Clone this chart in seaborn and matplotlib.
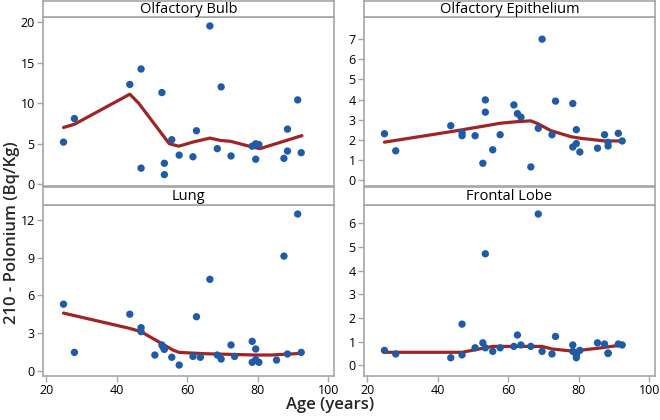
import matplotlib
matplotlib.use("Agg")
import matplotlib.pyplot as plt
import seaborn as sns
import pandas as pd

# Olfactory Bulb
ob_age = [24.9, 28.0, 43.7, 46.9, 46.9, 52.8, 53.5, 53.5, 55.6, 57.7, 61.6, 62.6, 66.4,
          68.5, 69.6, 72.4, 78.4, 79.4, 80.3, 79.4, 87.4, 88.4, 88.4, 91.3, 92.3]
ob_val = [5.2, 8.1, 12.3, 14.2, 2.0, 11.3, 2.6, 1.2, 5.5, 3.6, 3.4, 6.6, 19.5,
          4.4, 12.0, 3.5, 4.7, 5.0, 4.9, 3.1, 3.2, 6.8, 4.1, 10.4, 3.9]
ob_fit_age = [24.9, 28.0, 43.7, 46.2, 54.9, 57.6, 61.5, 66.4, 69.5, 72.3, 78.4, 80.6, 92.5]
ob_fit_val = [7.0, 7.4, 11.1, 10.0, 5.0, 4.7, 5.2, 5.7, 5.4, 5.3, 4.6, 4.4, 6.0]

# Olfactory Epithelium
oe_age = [24.9, 28.1, 43.7, 46.9, 46.9, 50.6, 52.8, 53.5, 53.5, 55.6, 57.7, 61.6, 62.6,
          63.6, 66.4, 68.5, 69.6, 72.4, 73.4, 78.3, 79.3, 78.3, 79.3, 80.3, 85.3,
          87.3, 88.3, 88.3, 91.2, 92.3]
oe_val = [2.3, 1.45, 2.7, 2.35, 2.2, 2.2, 0.83, 3.98, 3.37, 1.5, 2.25, 3.73, 3.3,
          3.12, 0.65, 2.57, 7.0, 2.25, 3.92, 3.8, 2.5, 1.64, 1.81, 1.39, 1.58,
          2.25, 1.87, 1.69, 2.32, 1.94]
oe_fit_age = [24.9, 43.7, 53.5, 57.7, 61.9, 66.4, 68.5, 72.1, 77.8, 80.6, 87.3, 92.3]
oe_fit_val = [1.88, 2.4, 2.69, 2.82, 2.89, 2.94, 2.79, 2.45, 2.15, 2.07, 1.94, 1.94]

# Lung
lu_age = [24.9, 28.0, 43.7, 46.9, 46.9, 50.8, 52.8, 53.2, 53.5, 55.6, 57.7, 61.6, 62.6,
          63.7, 66.4, 68.5, 69.6, 72.4, 73.4, 78.4, 79.4, 78.4, 79.4, 80.3, 85.3,
          87.4, 88.4, 91.3, 92.3]
lu_val = [5.3, 1.46, 4.5, 3.43, 3.11, 1.25, 2.05, 1.86, 1.7, 1.07, 0.45, 1.14, 4.3,
          1.07, 7.28, 1.25, 0.93, 2.05, 1.14, 2.34, 1.73, 0.67, 0.88, 0.67, 0.85,
          9.13, 1.33, 12.48, 1.46]
lu_fit_age = [24.9, 43.7, 46.9, 55.9, 57.7, 65.3, 79.4, 83.8, 92.3]
lu_fit_val = [4.59, 3.37, 3.11, 1.65, 1.46, 1.35, 1.25, 1.25, 1.38]

# Frontal Lobe
fl_age = [24.9, 28.1, 43.7, 46.9, 46.9, 50.6, 52.8, 53.5, 53.5, 55.6, 57.7, 61.6, 62.6,
          63.6, 66.4, 68.5, 69.6, 72.4, 73.4, 78.3, 78.3, 79.3, 79.3, 80.3, 85.3,
          87.3, 88.3, 88.3, 91.2, 92.3]
fl_val = [0.63, 0.48, 0.32, 1.74, 0.44, 0.74, 0.95, 4.71, 0.74, 0.59, 0.74, 0.8, 1.28,
          0.86, 0.8, 6.39, 0.59, 0.48, 1.22, 0.86, 0.59, 0.44, 0.32, 0.63, 0.95,
          0.9, 0.52, 0.5, 0.9, 0.86]
fl_fit_age = [24.9, 46.9, 53.5, 55.6, 69.6, 72.4, 78.3, 85.3, 92.3]
fl_fit_val = [0.55, 0.55, 0.74, 0.8, 0.8, 0.69, 0.6, 0.72, 0.86]

titles = ["Olfactory Bulb", "Olfactory Epithelium", "Lung", "Frontal Lobe"]
y_ticks = [[0, 5, 10, 15, 20], [0, 1, 2, 3, 4, 5, 6, 7], [0, 3, 6, 9, 12], [0, 1, 2, 3, 4, 5, 6]]
y_lims = [(-0.2, 20.6), (-0.3, 8.1), (-0.42, 13.2), (-0.45, 6.77)]

panels = [
    (ob_age, ob_val, ob_fit_age, ob_fit_val),
    (oe_age, oe_val, oe_fit_age, oe_fit_val),
    (lu_age, lu_val, lu_fit_age, lu_fit_val),
    (fl_age, fl_val, fl_fit_age, fl_fit_val),
]

sns.set_theme(style="white")
plt.rcParams['font.family'] = ['Open Sans', 'DejaVu Sans']

grey = "#a6a6a6"
dot_color = "#1f5ba6"
line_color = "#a02424"

fig = plt.figure(figsize=(6.6, 4.2), dpi=100)

lefts = [0.0652, 0.5515, 0.0652, 0.5515]
plot_bottoms = [0.5571, 0.5571, 0.1048, 0.1048]
plot_heights = [0.4024, 0.4024, 0.4071, 0.4071]
strip_bottoms = [0.9595, 0.9595, 0.5119, 0.5119]
strip_heights = [0.038, 0.038, 0.0429, 0.0429]
width = 0.4409

for i, (age, val, fit_age, fit_val) in enumerate(panels):
    ax = fig.add_axes([lefts[i], plot_bottoms[i], width, plot_heights[i]])
    pts = pd.DataFrame({"age": age, "val": val})
    fit = pd.DataFrame({"age": fit_age, "val": fit_val})
    sns.lineplot(data=fit, x="age", y="val", ax=ax, color=line_color, linewidth=2.3,
                 zorder=2)
    sns.scatterplot(data=pts, x="age", y="val", ax=ax, color=dot_color, s=28,
                    edgecolor="none", zorder=3)
    ax.set_xlim(19.1, 101.6)
    ax.set_ylim(*y_lims[i])
    ax.set_yticks(y_ticks[i])
    ax.set_xticks([20, 40, 60, 80, 100])
    ax.set_xlabel("")
    ax.set_ylabel("")
    for sp in ax.spines.values():
        sp.set_color(grey)
        sp.set_linewidth(1.2)
    ax.tick_params(axis="y", left=True, length=4, width=1, color=grey, pad=2,
                   labelsize=9, labelcolor="black")
    if i >= 2:
        ax.tick_params(axis="x", bottom=True, length=4, width=1, color=grey, pad=2,
                       labelsize=9, labelcolor="black")
    else:
        ax.tick_params(axis="x", bottom=False, labelbottom=False)

    sax = fig.add_axes([lefts[i], strip_bottoms[i], width, strip_heights[i]])
    sax.set_xticks([])
    sax.set_yticks([])
    for sp in sax.spines.values():
        sp.set_color(grey)
        sp.set_linewidth(1.2)
    sax.text(0.5, 0.45, titles[i], ha="center", va="center", fontsize=10.5,
             transform=sax.transAxes, color="black")

fig.text(0.018, 0.445, "210 - Polonium (Bq/Kg)", rotation=90, ha="center", va="center",
         fontsize=12, fontweight="semibold")
fig.text(0.5, 0.035, "Age (years)", ha="center", va="center", fontsize=12,
         fontweight="semibold")

fig.savefig("out.png", dpi=100)
